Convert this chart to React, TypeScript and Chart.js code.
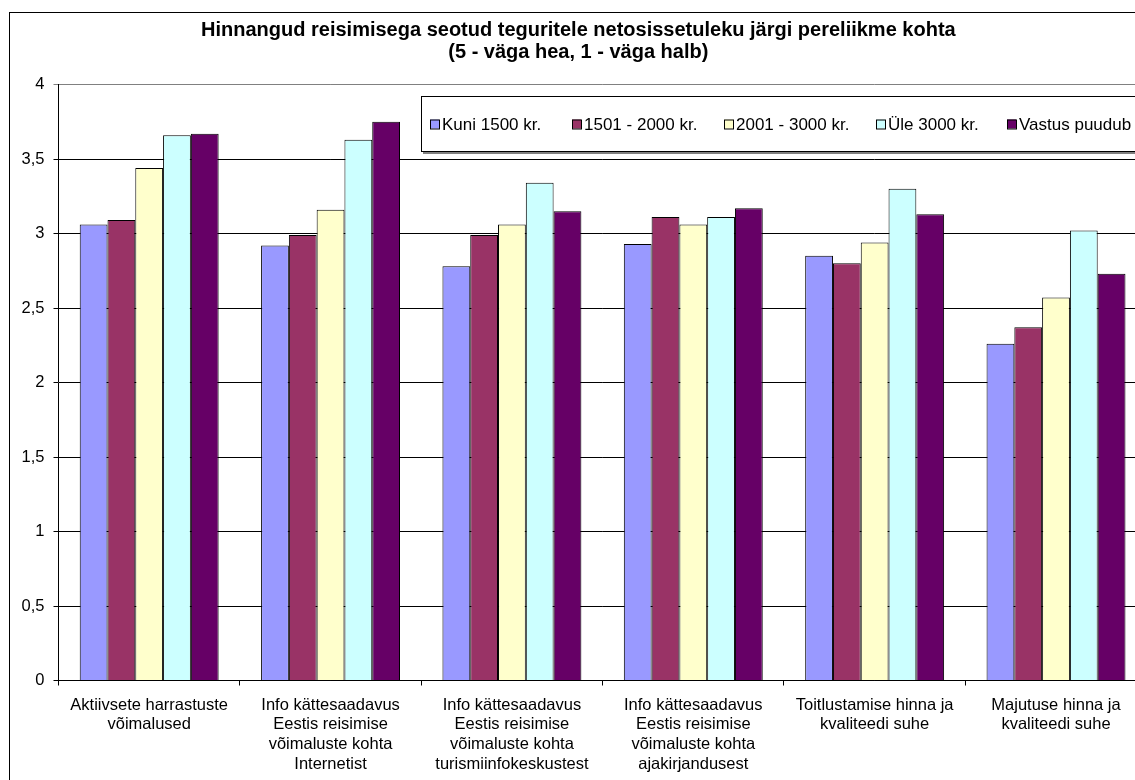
import React, { useEffect, useRef } from 'react';
import { Chart, registerables } from 'chart.js';

Chart.register(...registerables);

const titleLines: string[] = [
  'Hinnangud reisimisega seotud teguritele netosissetuleku järgi pereliikme kohta',
  '(5 - väga hea, 1 - väga halb)',
];

const categories: string[][] = [
  ['Aktiivsete harrastuste', 'võimalused'],
  ['Info kättesaadavus', 'Eestis reisimise', 'võimaluste kohta', 'Internetist'],
  ['Info kättesaadavus', 'Eestis reisimise', 'võimaluste kohta', 'turismiinfokeskustest'],
  ['Info kättesaadavus', 'Eestis reisimise', 'võimaluste kohta', 'ajakirjandusest'],
  ['Toitlustamise hinna ja', 'kvaliteedi suhe'],
  ['Majutuse hinna ja', 'kvaliteedi suhe'],
];

const seriesNames: string[] = ['Kuni 1500 kr.', '1501 - 2000 kr.', '2001 - 3000 kr.', 'Üle 3000 kr.', 'Vastus puudub'];

const kuni1500: number[] = [3.06, 2.92, 2.78, 2.93, 2.85, 2.26];
const vahemik1501_2000: number[] = [3.09, 2.99, 2.99, 3.11, 2.80, 2.37];
const vahemik2001_3000: number[] = [3.44, 3.16, 3.06, 3.06, 2.94, 2.57];
const yle3000: number[] = [3.66, 3.63, 3.34, 3.11, 3.30, 3.02];
const vastusPuudub: number[] = [3.67, 3.75, 3.15, 3.17, 3.13, 2.73];

const seriesColors: string[] = ['#9999FF', '#993366', '#FFFFCC', '#CCFFFF', '#660066'];

const yMin = 0;
const yMax = 4;
const yStep = 0.5;

const FONT = '"Liberation Sans", Arial, sans-serif';

// legend layout (canvas px)
const LEG_LEFT = 411;
const LEG_TOP = 83;
const LEG_BOTTOM = 138;
const LEG_ITEM_X = [420, 562, 714, 866, 997];
const LEG_MID_Y = 111;

const legendPlugin = {
  id: 'boxLegend',
  afterDraw(chart: any) {
    const ctx = chart.ctx as CanvasRenderingContext2D;
    const right = chart.width + 30;
    ctx.save();
    // shadow
    ctx.fillStyle = '#808080';
    ctx.fillRect(LEG_LEFT + 2, LEG_BOTTOM + 1, right - LEG_LEFT, 2);
    ctx.fillStyle = '#ffffff';
    ctx.fillRect(LEG_LEFT, LEG_TOP, right - LEG_LEFT, LEG_BOTTOM - LEG_TOP);
    ctx.strokeStyle = '#000000';
    ctx.lineWidth = 1;
    ctx.strokeRect(LEG_LEFT + 0.5, LEG_TOP + 0.5, right - LEG_LEFT, LEG_BOTTOM - LEG_TOP);
    ctx.font = `17px ${FONT}`;
    ctx.textBaseline = 'middle';
    ctx.textAlign = 'left';
    chart.data.datasets.forEach((ds: any, i: number) => {
      const x = LEG_ITEM_X[i];
      ctx.fillStyle = ds.backgroundColor;
      ctx.fillRect(x, LEG_MID_Y - 4.5, 9, 9);
      ctx.strokeStyle = '#000';
      ctx.strokeRect(x + 0.5, LEG_MID_Y - 4.5 + 0.5, 9, 9);
      ctx.fillStyle = '#000';
      ctx.fillText(ds.label, x + 12, LEG_MID_Y + 1);
    });
    ctx.restore();
  },
};

export default function App() {
  const canvasRef = useRef<HTMLCanvasElement | null>(null);

  useEffect(() => {
    if (!canvasRef.current) return;
    const seriesData = [kuni1500, vahemik1501_2000, vahemik2001_3000, yle3000, vastusPuudub];
    const chart = new Chart(canvasRef.current, {
      type: 'bar',
      data: {
        labels: categories,
        datasets: seriesNames.map((name, i) => ({
          label: name,
          data: seriesData[i],
          backgroundColor: seriesColors[i],
          borderColor: '#000000',
          borderWidth: 1,
          borderSkipped: 'start' as const,
          categoryPercentage: 0.766,
          barPercentage: 1.0,
        })),
      },
      options: {
        animation: false,
        responsive: true,
        maintainAspectRatio: false,
        devicePixelRatio: 1,
        layout: { padding: { left: 0, right: 4.3, top: 0, bottom: 12.5 } },
        plugins: {
          legend: { display: false },
          tooltip: { enabled: false },
          title: {
            display: true,
            text: titleLines,
            color: '#000',
            font: { family: FONT, size: 20, weight: 'bold', lineHeight: 1.12 },
            padding: { top: 6.3, bottom: 20.4 },
          },
        },
        scales: {
          x: {
            offset: true,
            grid: {
              display: true,
              offset: true,
              drawOnChartArea: false,
              drawTicks: true,
              tickLength: 5,
              color: '#000',
            },
            border: { display: true, color: '#000', width: 1 },
            ticks: {
              autoSkip: false,
              maxRotation: 0,
              minRotation: 0,
              color: '#000',
              padding: 9.6,
              font: { family: FONT, size: 16.5, lineHeight: 1.2 },
            },
            afterFit: (scale: any) => {
              scale.height = 110;
            },
          },
          y: {
            min: yMin,
            max: yMax,
            grid: {
              color: (c: any) => (c.tick && c.tick.value === yMax ? '#808080' : '#000000'),
              lineWidth: 1,
              drawTicks: true,
              tickLength: 5,
            },
            border: { display: true, color: '#000', width: 1 },
            ticks: {
              stepSize: yStep,
              color: '#000',
              padding: 9,
              font: { family: FONT, size: 16.5 },
              callback: (v: any) => String(v).replace('.', ','),
            },
            afterFit: (scale: any) => {
              scale.width = 48.5;
            },
          },
        },
      },
      plugins: [legendPlugin],
    });
    return () => chart.destroy();
  }, []);

  return (
    <div style={{ position: 'absolute', left: 0, top: 0, width: 1135, height: 780, overflow: 'hidden', background: '#fff' }}>
      <div
        style={{
          position: 'absolute',
          left: 9,
          top: 12,
          width: 1160,
          height: 800,
          border: '1px solid #000',
          boxSizing: 'border-box',
        }}
      />
      <div style={{ position: 'absolute', left: 10, top: 13, width: 1141, height: 790 }}>
        <canvas ref={canvasRef} />
      </div>
    </div>
  );
}
